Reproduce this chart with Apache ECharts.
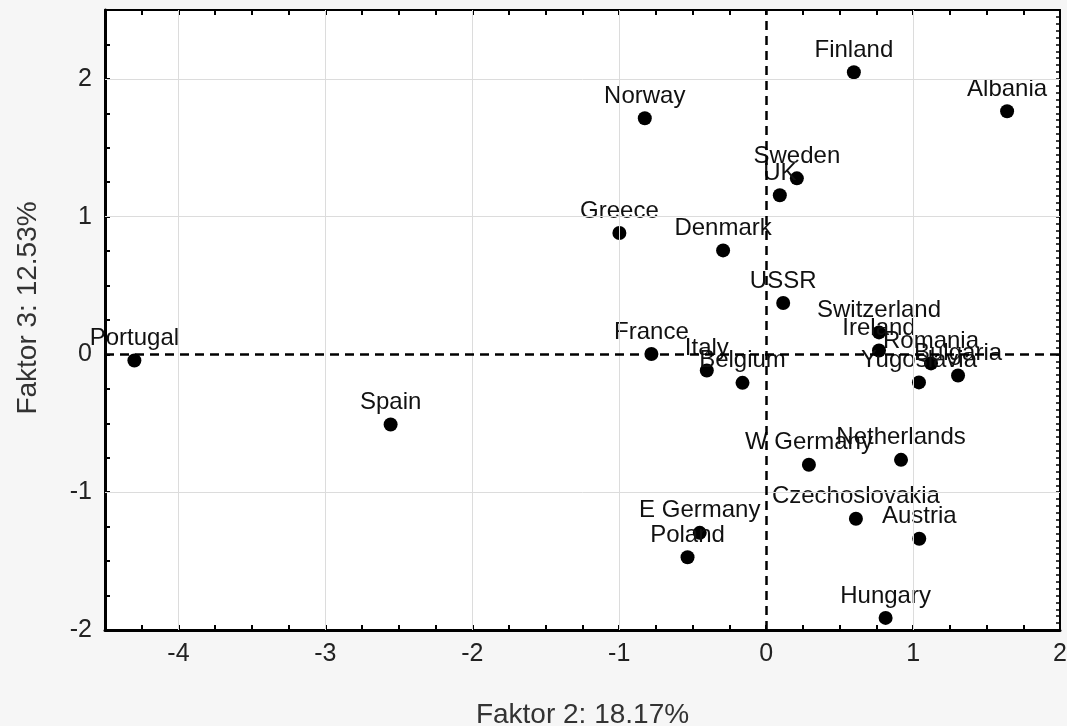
<!DOCTYPE html>
<html>
<head>
<meta charset="utf-8">
<script src="https://cdn.jsdelivr.net/npm/echarts@6/dist/echarts.min.js"></script>
<style>
  html, body { margin: 0; background: #f6f6f6; }
  #chart { width: 1067px; height: 726px; }
</style>
</head>
<body>
<div id="chart"></div>
<script>
"use strict";
// ---- data: factor scores per country ----
const COUNTRIES = ["Portugal", "Spain", "Norway", "Greece", "Denmark", "Finland", "Albania",
  "Sweden", "UK", "USSR", "Switzerland", "Ireland", "Romania", "Bulgaria", "Yugoslavia",
  "France", "Italy", "Belgium", "W Germany", "Netherlands", "Czechoslovakia", "Austria",
  "E Germany", "Poland", "Hungary"];
const FAKTOR2 = [-4.30, -2.556, -0.826, -0.999, -0.293, 0.597, 1.640,
  0.209, 0.093, 0.116, 0.768, 0.768, 1.122, 1.306, 1.040,
  -0.781, -0.404, -0.161, 0.291, 0.918, 0.611, 1.042,
  -0.452, -0.535, 0.813];
const FAKTOR3 = [-0.044, -0.508, 1.714, 0.881, 0.755, 2.048, 1.765,
  1.278, 1.155, 0.373, 0.160, 0.029, -0.065, -0.153, -0.203,
  0.003, -0.116, -0.206, -0.801, -0.765, -1.193, -1.338,
  -1.295, -1.472, -1.912];
const GRID_X = [-4, -3, -2, -1, 1];
const GRID_Y = [-1, 1, 2];
const X_TITLE = "Faktor 2: 18.17%";
const Y_TITLE = "Faktor 3: 12.53%";

const FONT = "'Liberation Sans', Arial, sans-serif";
const intOnly = (v) => (Math.abs(v - Math.round(v)) < 1e-6 ? String(Math.round(v)) : "");
const points = COUNTRIES.map((n, i) => ({ name: n, value: [FAKTOR2[i], FAKTOR3[i]] }));

const chart = echarts.init(document.getElementById("chart"), null, { renderer: "canvas" });
const tickStyle = { show: true, inside: true, length: 5, lineStyle: { color: "#000", width: 2 } };

chart.setOption({
  animation: false,
  backgroundColor: "#f6f6f6",
  textStyle: { fontFamily: FONT },
  grid: { left: 105, right: 7, top: 10, bottom: 96, show: true, outerBoundsMode: "none",
    containLabel: false, backgroundColor: "#fff", borderWidth: 0 },
  xAxis: [
    { type: "value", position: "bottom", min: -4.5, max: 2, interval: 0.25,
      axisLine: { onZero: false, lineStyle: { color: "#000", width: 3 } },
      axisTick: tickStyle, splitLine: { show: false },
      axisLabel: { formatter: intOnly, fontSize: 25, color: "#222", margin: 12, fontFamily: FONT },
      name: X_TITLE, nameLocation: "middle", nameGap: 71,
      nameTextStyle: { fontSize: 28, color: "#333", fontFamily: FONT } },
    { type: "value", position: "top", min: -4.5, max: 2, interval: 0.25,
      axisLine: { onZero: false, lineStyle: { color: "#000", width: 2 } },
      axisTick: tickStyle, splitLine: { show: false }, axisLabel: { show: false } }],
  yAxis: [
    { type: "value", position: "left", min: -2, max: 2.5, interval: 0.25,
      axisLine: { onZero: false, lineStyle: { color: "#000", width: 3 } },
      axisTick: tickStyle, splitLine: { show: false },
      axisLabel: { formatter: intOnly, fontSize: 25, color: "#222", margin: 13, fontFamily: FONT },
      name: Y_TITLE, nameLocation: "middle", nameRotate: 90, nameGap: 63,
      nameTextStyle: { fontSize: 28, color: "#333", fontFamily: FONT, padding: [0, 0, 0, 24] } },
    { type: "value", position: "right", min: -2, max: 2.5, interval: 0.05,
      axisLine: { onZero: false, lineStyle: { color: "#000", width: 2 } },
      axisTick: { show: true, inside: true, length: 4, lineStyle: { color: "#000", width: 1.5 } },
      splitLine: { show: false }, axisLabel: { show: false } }],
  series: [
    { name: "grid", type: "line", data: [], silent: true,
      markLine: { silent: true, symbol: "none", label: { show: false },
        lineStyle: { color: "#dcdcdc", width: 1, type: "solid" },
        data: [...GRID_X.map((v) => ({ xAxis: v })), ...GRID_Y.map((v) => ({ yAxis: v }))] } },
    { name: "zero", type: "line", data: [], silent: true,
      markLine: { silent: true, symbol: "none", label: { show: false },
        lineStyle: { color: "#000", width: 2.5, type: [9, 6] },
        data: [{ xAxis: 0 }, { yAxis: 0 }] } },
    { name: "countries", type: "scatter", data: points, symbolSize: 14,
      itemStyle: { color: "#000", opacity: 1 },
      label: { show: true, position: "top", distance: 3, formatter: "{b}",
        fontSize: 24, color: "#111", fontFamily: FONT } }],
});
</script>
</body>
</html>
